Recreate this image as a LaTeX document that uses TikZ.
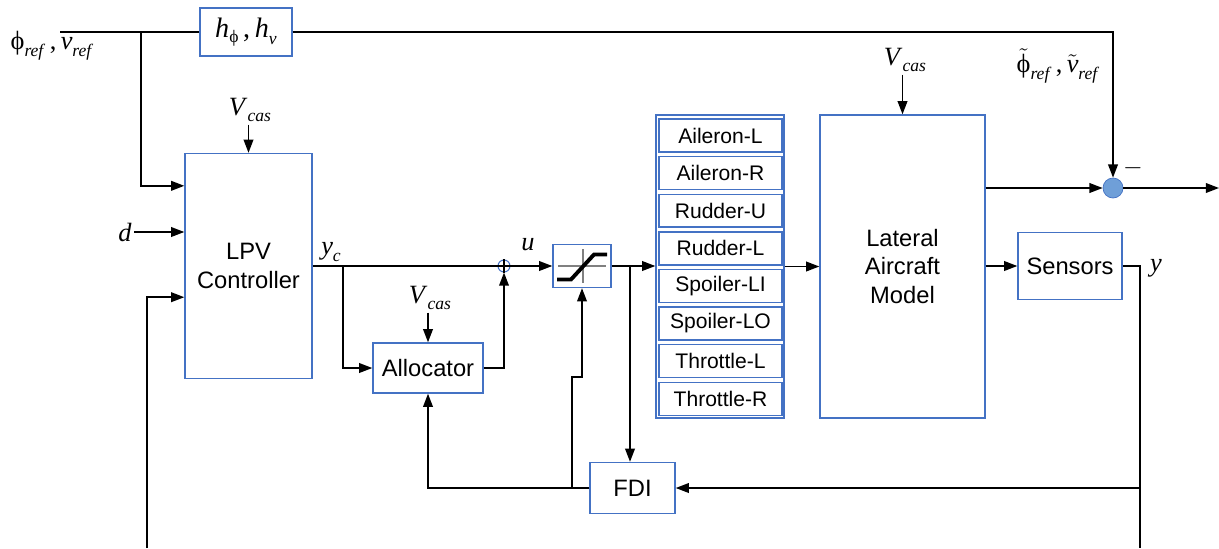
\documentclass[tikz,border=0pt]{standalone}
\usepackage{fontspec}
\setmainfont{Liberation Serif}
\setsansfont{Liberation Sans}
\usetikzlibrary{arrows.meta}
\definecolor{boxblue}{HTML}{4472C4}
\definecolor{dotblue}{HTML}{6F9FD8}
\newcommand{\isub}[2]{\textit{#1}\raisebox{-0.55ex}{\fontsize{10}{10}\selectfont\textit{#2}}}
\newcommand{\gsub}[2]{#1\raisebox{-0.55ex}{\fontsize{10}{10}\selectfont\textit{#2}}}

\begin{document}
\begin{tikzpicture}[x=0.02cm, y=-0.02cm, line width=0.9pt,
    blk/.style={draw=boxblue, line width=0.8pt, fill=white, align=center, inner sep=0pt,
        font=\sffamily\fontsize{13.5}{16}\selectfont},
    act/.style={draw=boxblue, line width=0.8pt, minimum width=2.46cm, minimum height=0.66cm,
        inner sep=0pt, font=\sffamily\fontsize{12}{14}\selectfont},
    lbl/.style={inner sep=1pt, font=\fontsize{15}{17}\selectfont},
    arr/.style={-{Triangle[length=7.5pt,width=5.5pt]}}]
    \useasboundingbox (0,0) rectangle (1219,548);

    % blocks
    \node[blk, minimum width=1.84cm, minimum height=0.96cm, font=\fontsize{16}{18}\selectfont] (h) at (246,32)
        {\gsub{\textit{h}}{\raisebox{0.3ex}{\upshape ϕ}}\,,\,\isub{h}{v}};
    \node[blk, minimum width=2.54cm, minimum height=4.5cm] (lpv) at (248.5,266) {LPV\\Controller};
    \node[blk, minimum width=2.2cm, minimum height=1.0cm] (alloc) at (428,368) {Allocator};
    \node[draw=boxblue, circle, minimum size=0.24cm, inner sep=0pt, line width=0.6pt] (sum) at (504,266) {};
    \draw[line width=0.6pt] (sum.north) -- (sum.south) (sum.west) -- (sum.east);
    \node[blk, minimum width=1.16cm, minimum height=0.86cm] (sat) at (582,266) {};
    \begin{scope}[shift={(sat.center)}]
        \draw[gray, line width=0.7pt] (-24,0) -- (24,0) (1,-17) -- (1,17);
        \draw[line width=2.2pt] (-25,13.5) -- (-11,13.5) -- (12,-11.5) -- (25,-11.5);
    \end{scope}

    \node[blk, minimum width=2.56cm, minimum height=6.06cm] (stack) at (720,266.5) {};
    \foreach \nm [count=\i from 0] in {Aileron-L, Aileron-R, Rudder-U, Rudder-L, Spoiler-LI, Spoiler-LO, Throttle-L, Throttle-R}
        \node[act] (act\i) at (720.5, 135.5+37.6*\i) {\nm};

    \node[blk, minimum width=3.3cm, minimum height=6.06cm] (model) at (902.5,266.5) {Lateral\\Aircraft\\Model};
    \node[blk, minimum width=2.08cm, minimum height=1.34cm] (sens) at (1070,266) {Sensors};
    \node[circle, fill=dotblue, draw=boxblue, line width=0.4pt, minimum size=0.4cm, inner sep=0pt] (sum2) at (1113,188) {};
    \node[blk, minimum width=1.7cm, minimum height=1.02cm] (fdi) at (632.5,488) {FDI};

    % labels
    \node[lbl] (ref) at (52,46) {\gsub{ϕ}{ref}\,,\,\isub{v}{ref}};
    \node[lbl] (reft) at (1058,66) {\gsub{$\tilde{\mbox{ϕ}}$}{ref}\,,\,\gsub{$\tilde{\mbox{\textit{v}}}$}{ref}};
    \node[lbl] (v1) at (250,110) {\isub{V}{cas}};
    \node[lbl] (v2) at (430,298) {\isub{V}{cas}};
    \node[lbl] (v3) at (905,60) {\isub{V}{cas}};
    \node[lbl] (d) at (125,232) {\textit{d}};
    \node[lbl] (yc) at (331,252) {\isub{y}{c}};
    \node[lbl] (u) at (528,245) {\textit{u}};
    \node[lbl] (y) at (1156,268) {\textit{y}};
    \node[lbl] (minus) at (1133,168) {$-$};

    \coordinate (in) at (60,32);
    \coordinate (b1) at (141,32);
    \coordinate (b2) at (343,266);
    \coordinate (b3) at (630,266);
    \coordinate (b5) at (572,488);
    \coordinate (fbL) at (147,548);
    \coordinate (fbR) at (1140,548);
    \coordinate (out) at (1219,188);

    % connectors
    \draw (in) -- (h.west);
    \draw[arr] (h.east) -| (sum2.north);
    \draw[arr] (b1) |- ([yshift=-0.66cm]lpv.north west);
    \draw[arr] (d) -- (d -| lpv.west);
    \draw[arr] (fbL) |- ([yshift=1.64cm]lpv.south west);
    \draw[arr] (v1.south -| lpv.north) -- (lpv.north);
    \draw (lpv.east) -- (sum.west);
    \draw[arr] (b2) |- (alloc.west);
    \draw[arr] (v2.south -| alloc.north) -- (alloc.north);
    \draw[arr] (alloc.east) -| (sum.south);
    \draw[arr] (sum.east) -- (sat.west);
    \draw[arr] (sat.east) -- (sat.east -| stack.west);
    \draw[arr] (b3) -- (b3 |- fdi.north);
    \draw[arr] (stack.east) -- (model.west);
    \draw[arr] (v3.south -| model.north) -- (model.north);
    \draw[arr] (model.east |- sum2) -- (sum2.west);
    \draw[arr] (sum2.east) -- (out);
    \draw[arr] (model.east |- sens) -- (sens.west);
    \draw (sens.east) -| (fbR);
    \draw[arr] (fbR |- fdi) -- (fdi.east);
    \draw[arr] (fdi.west) -| (alloc.south);
    \draw[arr] (b5) -- ++(0,-111) -| (sat.south);
\end{tikzpicture}
\end{document}
